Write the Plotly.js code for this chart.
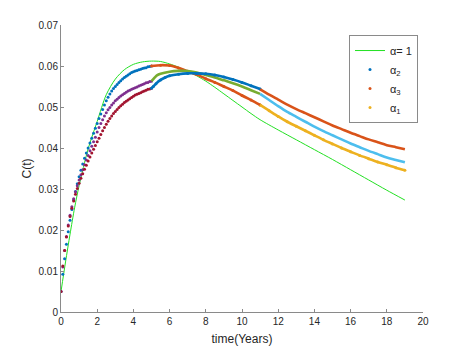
<!DOCTYPE html>
<html>
<head>
<meta charset="utf-8">
<script src="https://cdn.plot.ly/plotly-3.0.1.min.js"></script>
<style>html,body{margin:0;padding:0;background:#fff;}#chart{width:467px;height:350px;}</style>
</head>
<body>
<div id="chart"></div>
<script>
// ---- data ----
// time grid of the first stage (0..5, step 0.1)
var tEarly = [0.0,0.1,0.2,0.3,0.4,0.5,0.6,0.7,0.8,0.9,1.0,1.1,1.2,1.3,1.4,1.5,1.6,1.7,1.8,1.9,2.0,2.1,2.2,2.3,2.4,2.5,2.6,2.7,2.8,2.9,3.0,3.1,3.2,3.3,3.4,3.5,3.6,3.7,3.8,3.9,4.0,4.1,4.2,4.3,4.4,4.5,4.6,4.7,4.8,4.9,5.0];
var s1Early = [0.0050,0.0092,0.0130,0.0165,0.0196,0.0224,0.0250,0.0273,0.0294,0.0313,0.0330,0.0346,0.0361,0.0375,0.0388,0.0400,0.0412,0.0424,0.0436,0.0448,0.0460,0.0472,0.0483,0.0494,0.0505,0.0515,0.0524,0.0532,0.0539,0.0545,0.0550,0.0555,0.0560,0.0564,0.0568,0.0572,0.0575,0.0578,0.0581,0.0584,0.0586,0.0588,0.0589,0.0591,0.0592,0.0594,0.0595,0.0596,0.0598,0.0599,0.0600];
var s2Early = [0.0050,0.0110,0.0150,0.0184,0.0212,0.0236,0.0257,0.0276,0.0293,0.0308,0.0322,0.0335,0.0347,0.0359,0.0371,0.0382,0.0393,0.0404,0.0415,0.0426,0.0439,0.0450,0.0460,0.0469,0.0478,0.0486,0.0493,0.0499,0.0505,0.0510,0.0515,0.0519,0.0523,0.0527,0.0530,0.0533,0.0536,0.0539,0.0541,0.0543,0.0545,0.0547,0.0549,0.0551,0.0553,0.0555,0.0557,0.0559,0.0560,0.0562,0.0563];
var s3Early = [0.0050,0.0112,0.0150,0.0183,0.0210,0.0233,0.0253,0.0271,0.0287,0.0301,0.0314,0.0326,0.0337,0.0348,0.0358,0.0368,0.0378,0.0388,0.0397,0.0406,0.0415,0.0424,0.0433,0.0442,0.0450,0.0458,0.0465,0.0472,0.0478,0.0484,0.0489,0.0494,0.0499,0.0503,0.0507,0.0511,0.0514,0.0517,0.0520,0.0523,0.0526,0.0529,0.0531,0.0533,0.0535,0.0537,0.0539,0.0541,0.0543,0.0544,0.0546];

// second stage (5..11)
var tMid1 = [5.0,5.5,6.0,6.5,7.0,7.5,8.0,8.5,9.0,9.5,10.0,10.5,11.0];
var s1Mid = [0.0600,0.0602,0.0601,0.0595,0.0587,0.0579,0.0569,0.0560,0.0550,0.0540,0.0528,0.0517,0.0505];
var tMid2 = [5.0,5.1,5.2,5.3,5.5,6.0,6.5,7.0,7.5,8.0,8.5,9.0,9.5,10.0,10.5,11.0];
var s2Mid = [0.0563,0.0568,0.0573,0.0577,0.0581,0.0586,0.0588,0.0588,0.0584,0.0578,0.0572,0.0565,0.0558,0.0550,0.0541,0.0532];
var tMid3 = [5.0,5.1,5.25,5.5,5.75,6.0,6.5,7.0,7.5,8.0,8.5,9.0,9.5,10.0,10.5,11.0];
var s3Mid = [0.0546,0.0550,0.0557,0.0566,0.0572,0.0576,0.0580,0.0582,0.0582,0.0581,0.0578,0.0573,0.0567,0.0560,0.0552,0.0544];

// third stage (11..19)
var tLate = [11.0,11.5,12.0,12.5,13.0,13.5,14.0,14.5,15.0,15.5,16.0,16.5,17.0,17.5,18.0,18.5,19.0];
var s1Late = [0.0505,0.0491,0.0477,0.0464,0.0453,0.0442,0.0431,0.0420,0.0410,0.0400,0.0391,0.0382,0.0374,0.0366,0.0359,0.0352,0.0346];
var s2Late = [0.0532,0.0517,0.0502,0.0488,0.0476,0.0464,0.0452,0.0441,0.0431,0.0421,0.0411,0.0402,0.0393,0.0385,0.0377,0.0371,0.0365];
var s3Late = [0.0543,0.0530,0.0518,0.0506,0.0495,0.0485,0.0475,0.0465,0.0455,0.0446,0.0437,0.0429,0.0421,0.0414,0.0407,0.0402,0.0397];

// integer-order reference (alpha = 1)
var tRef = [0,0.25,0.5,0.75,1,1.5,2,2.5,3,3.5,4,4.5,5,5.5,6,6.5,7,7.5,8,8.5,9,9.5,10,10.5,11,12,13,14,15,16,17,18,19];
var cRef = [0.0050,0.0122,0.0190,0.0254,0.0308,0.0398,0.0465,0.0530,0.0568,0.0591,0.0604,0.0610,0.0612,0.0611,0.0605,0.0597,0.0587,0.0576,0.0563,0.0548,0.0532,0.0516,0.0500,0.0484,0.0469,0.0444,0.0420,0.0396,0.0372,0.0347,0.0322,0.0297,0.0273];

var names = ['\u03b1= 1', '\u03b1<sub>2</sub>', '\u03b1<sub>3</sub>', '\u03b1<sub>1</sub>'];
var yTickVals = [0,0.01,0.02,0.03,0.04,0.05,0.06,0.07];
var yTickText = ['0','0.01','0.02','0.03','0.04','0.05','0.06','0.07'];

var C = {blue:'#0072BD', orange:'#D95319', yellow:'#EDB120', purple:'#7E2F8E',
         green:'#77AC30', lblue:'#4DBEEE', dred:'#A2142F', ref:'#22E022'};
var MS = 3, LW = 2.6;

function dots(x, y, color, name, show) {
  return {x:x, y:y, type:'scatter', mode:'markers', name:name || '', showlegend: !!show,
          marker:{size:MS, color:color, line:{width:0}}, hoverinfo:'skip'};
}
function seg(x, y, color) {
  return {x:x, y:y, type:'scatter', mode:'lines', showlegend:false,
          line:{width:LW, color:color, shape:'spline', smoothing:0.8}, hoverinfo:'skip'};
}

var traces = [
  {x:tRef, y:cRef, type:'scatter', mode:'lines', name:names[0],
   line:{color:C.ref, width:1, shape:'spline', smoothing:0.8}, hoverinfo:'skip'},
  dots(tEarly, s1Early, C.blue, names[1], true),
  dots(tMid1, s1Mid, C.orange, names[2], true),
  dots(tLate, s1Late, C.yellow, names[3], true),
  seg(tMid1, s1Mid, C.orange),
  seg(tLate, s1Late, C.yellow),
  dots(tEarly, s2Early, C.purple),
  seg(tMid2, s2Mid, C.green),
  seg(tLate, s2Late, C.lblue),
  dots(tEarly, s3Early, C.dred),
  seg(tMid3, s3Mid, C.blue),
  dots(tMid3, s3Mid, C.blue),
  seg(tLate, s3Late, C.orange)
];

var axisCommon = {
  showgrid:false, zeroline:false, showline:true, linecolor:'#8a8a8a', linewidth:1,
  ticks:'inside', ticklen:3, tickcolor:'#8a8a8a', mirror:false,
  tickfont:{family:'Liberation Sans, Arial, sans-serif', size:10, color:'#262626'}
};

var layout = {
  width:467, height:350,
  margin:{l:61, r:44, t:25, b:38},
  paper_bgcolor:'#fff', plot_bgcolor:'#fff',
  showlegend:true,
  font:{family:'Liberation Sans, Arial, sans-serif', color:'#262626'},
  xaxis: Object.assign({}, axisCommon, {
    range:[0,20], tickmode:'linear', tick0:0, dtick:2,
    title:{text:'time(Years)', font:{size:12, color:'#262626'}, standoff:8}
  }),
  yaxis: Object.assign({}, axisCommon, {
    range:[0,0.07], tickmode:'array', tickvals:yTickVals, ticktext:yTickText,
    title:{text:'C(t)', font:{size:12, color:'#262626'}, standoff:4}
  }),
  legend:{x:0.7956, y:0.965, xanchor:'left', yanchor:'top',
          bgcolor:'#fff', bordercolor:'#8a8a8a', borderwidth:1,
          font:{size:11, color:'#262626'}, tracegroupgap:0}
};

Plotly.newPlot('chart', traces, layout, {staticPlot:true, displayModeBar:false});
</script>
</body>
</html>
